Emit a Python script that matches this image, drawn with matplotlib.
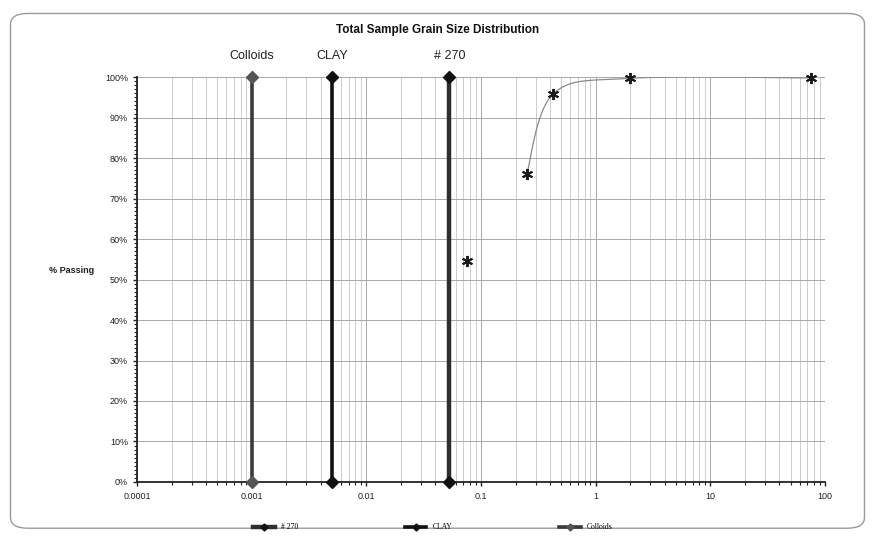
import numpy as np
import matplotlib.pyplot as plt
from matplotlib.patches import FancyBboxPatch
from matplotlib.ticker import LogLocator, FixedLocator, MultipleLocator, FuncFormatter

plt.rcParams["font.family"] = ["Liberation Sans", "DejaVu Sans"]

# sieve results, grain size in mm vs percent passing
grain_mm = [0.075, 0.25, 0.425, 2.0, 75.0]
passing = [54.5, 76.0, 95.8, 99.7, 99.8]

# reference sizes drawn as vertical bars
ref_names = ["# 270", "CLAY", "Colloids"]
ref_sizes = [0.053, 0.005, 0.001]
ref_colors = ["#2e2e2e", "#111111", "#3a3a3a"]
ref_marker_colors = ["#111111", "#111111", "#555555"]
ref_widths = [3.2, 2.6, 2.6]

x_ticks = [0.0001, 0.001, 0.01, 0.1, 1, 10, 100]
x_tick_labels = ["0.0001", "0.001", "0.01", "0.1", "1", "10", "100"]


def smooth_log(xs, ys, n=40):
    # catmull-rom through the points in log-x space, like Excel's smoothed line
    lx = np.log10(xs)
    ys = np.asarray(ys, float)
    px = np.concatenate([[lx[0]], lx, [lx[-1]]])
    py = np.concatenate([[ys[0]], ys, [ys[-1]]])
    outx, outy = [], []
    t = np.linspace(0, 1, n)
    for i in range(1, len(px) - 2):
        for arr, out in ((px, outx), (py, outy)):
            p0, p1, p2, p3 = arr[i - 1], arr[i], arr[i + 1], arr[i + 2]
            m1 = (p2 - p0) / 2
            m2 = (p3 - p1) / 2
            h00 = 2 * t**3 - 3 * t**2 + 1
            h10 = t**3 - 2 * t**2 + t
            h01 = -2 * t**3 + 3 * t**2
            h11 = t**3 - t**2
            out.extend(h00 * p1 + h10 * m1 + h01 * p2 + h11 * m2)
    return 10 ** np.array(outx), np.array(outy)


fig = plt.figure(figsize=(8.75, 5.39), dpi=100)
fig.patches.append(FancyBboxPatch((0.012, 0.02), 0.976, 0.955,
                                  boxstyle="round,pad=0,rounding_size=0.02",
                                  transform=fig.transFigure, facecolor="white",
                                  edgecolor="#9a9a9a", linewidth=1.0, zorder=-10))
ax = fig.add_axes([0.1566, 0.1058, 0.7863, 0.7512])
ax.set_facecolor("none")

ax.set_xscale("log")
ax.set_xlim(0.0001, 100)
ax.set_ylim(0, 100)

ax.xaxis.set_major_locator(FixedLocator(x_ticks))
ax.set_xticklabels(x_tick_labels)
ax.xaxis.set_minor_locator(LogLocator(base=10, subs=np.arange(2, 10)))
ax.xaxis.set_minor_formatter(FuncFormatter(lambda v, p: ""))
ax.yaxis.set_major_locator(MultipleLocator(10))
ax.yaxis.set_minor_locator(MultipleLocator(1))
ax.yaxis.set_major_formatter(FuncFormatter(lambda v, p: "%d%%" % v))

ax.grid(which="major", axis="both", color="#a8a8a8", linewidth=0.7)
ax.grid(which="minor", axis="x", color="#c4c4c4", linewidth=0.6)
ax.set_axisbelow(True)

for s in ("top", "right"):
    ax.spines[s].set_visible(False)
for s in ("left", "bottom"):
    ax.spines[s].set_color("#222222")
    ax.spines[s].set_linewidth(1.3)

ax.tick_params(which="major", length=3, width=1, labelsize=6.5, colors="#222222")
ax.tick_params(which="minor", length=2, width=0.8, colors="#222222")
ax.tick_params(axis="x", which="major", pad=4)

# reference bars
for name, size, col, mcol, lw in zip(ref_names, ref_sizes, ref_colors, ref_marker_colors, ref_widths):
    ax.plot([size, size], [0, 100], color=col, linewidth=lw, marker="D",
            markersize=6.5, markerfacecolor=mcol, markeredgecolor=mcol,
            label=name, clip_on=False, zorder=4)
    ax.text(size, 103.8, name, ha="center", va="bottom", fontsize=9, color="#222222")

# gradation curve
cx, cy = smooth_log(grain_mm[1:], passing[1:])
ax.plot(cx, cy, color="#8a8a8a", linewidth=0.9, zorder=3)
ax.plot(grain_mm, passing, linestyle="none", marker=(6, 2, 0), markersize=8,
        markeredgewidth=1.4, color="#1a1a1a", clip_on=False, zorder=5)

fig.text(0.5, 0.944, "Total Sample Grain Size Distribution", ha="center",
         va="center", fontsize=8.5, fontweight="bold", color="#111111")
fig.text(0.082, 0.499, "% Passing", ha="center", va="center", fontsize=6.5,
         fontweight="bold", color="#222222")

ax.legend(loc="upper center", bbox_to_anchor=(0.43, -0.085), ncol=3, frameon=False,
          handlelength=2.8, columnspacing=14, markerscale=0.55,
          prop={"family": ["Liberation Serif", "DejaVu Serif"], "size": 5.5})

fig.savefig("out.png", dpi=100)
